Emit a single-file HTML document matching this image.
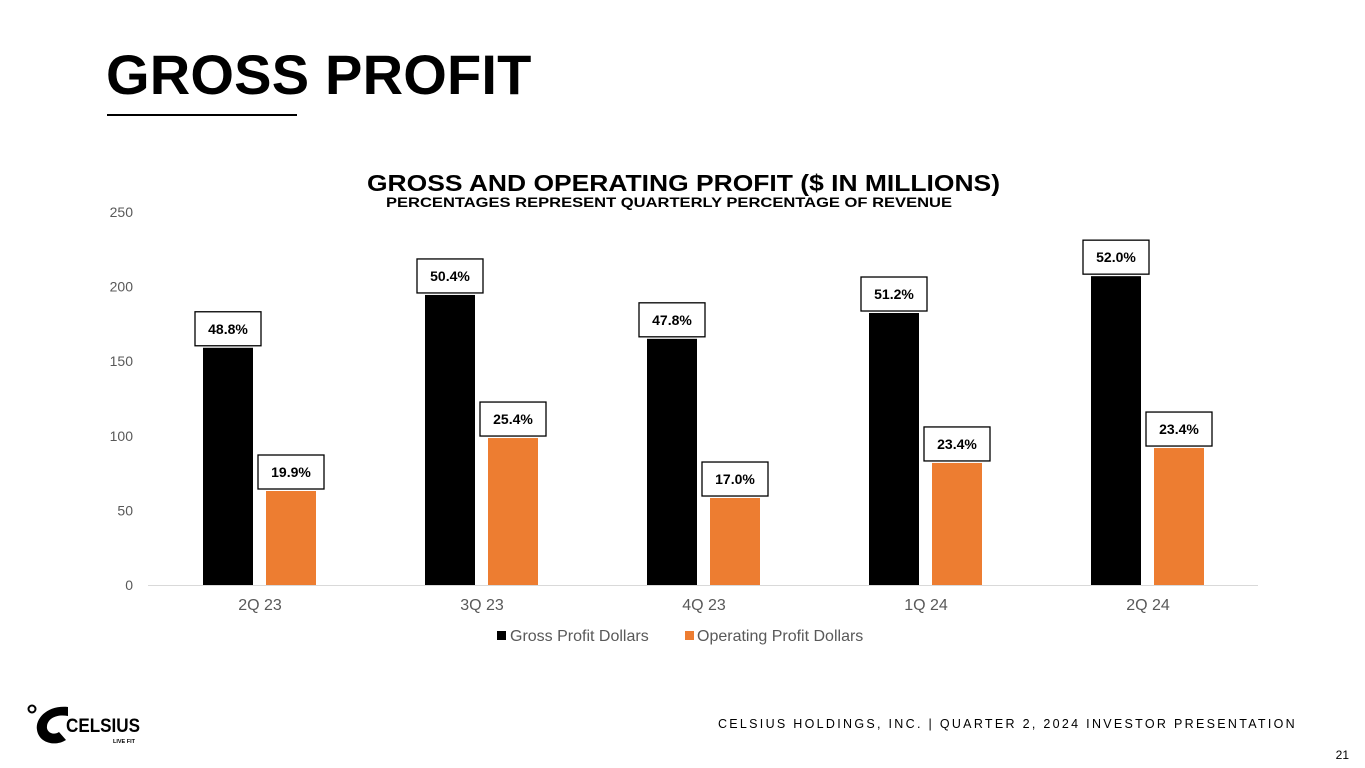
<!DOCTYPE html>
<html><head><meta charset="utf-8">
<style>
body{margin:0;width:1365px;height:768px;background:#fff;font-family:"Liberation Sans",Arial,sans-serif;overflow:hidden;position:relative}
.title{position:absolute;left:106px;top:40px;font-size:56px;font-weight:bold;color:#000;line-height:70px;letter-spacing:0.2px}
.rule{position:absolute;left:107px;top:114px;width:190px;height:2px;background:#000}
.footer{position:absolute;right:68px;top:717px;font-size:12.5px;letter-spacing:2.3px;color:#000}
.pnum{position:absolute;right:16px;top:748px;font-size:12px}
</style></head><body>
<div class="title">GROSS PROFIT</div>
<div class="rule"></div>
<svg id="chart" width="1365" height="768" style="position:absolute;left:0;top:0"></svg>
<div class="footer">CELSIUS HOLDINGS, INC. | QUARTER 2, 2024 INVESTOR PRESENTATION</div>
<div class="pnum">21</div>
<svg width="130" height="50" style="position:absolute;left:26px;top:700px">
<circle cx="6" cy="9" r="3.5" fill="none" stroke="#000" stroke-width="2"/>
<path d="M42 7 C22 5 9 18 11 30 C13 43 29 47 40 40 L33 32 C27 36 20 32 21 26 C22 18 31 14 42 16 Z" fill="#000"/>
<text x="40" y="32" font-size="19" font-weight="bold" textLength="74" lengthAdjust="spacingAndGlyphs" font-family="Liberation Sans, sans-serif">CELSIUS</text>
<text x="87" y="43" font-size="5.5" font-weight="bold" font-family="Liberation Sans, sans-serif">LIVE FIT</text>
</svg>
<script>
const categories=["2Q 23","3Q 23","4Q 23","1Q 24","2Q 24"];
const grossValues=[159,194.4,165,182.3,207];
const opValues=[63,98.5,58.3,81.8,91.8];
const grossPct=["48.8%","50.4%","47.8%","51.2%","52.0%"];
const opPct=["19.9%","25.4%","17.0%","23.4%","23.4%"];
const yTicks=[0,50,100,150,200,250];
const svg=document.getElementById('chart');
const NS="http://www.w3.org/2000/svg";
const x0=148,x1=1258,yBase=585,yTop=212,yMax=250;
const y=v=>yBase-(v/yMax)*(yBase-yTop);
const band=(x1-x0)/categories.length;
const cx=i=>x0+band*(i+0.5);
function el(t,a,txt){const e=document.createElementNS(NS,t);for(const k in a)e.setAttribute(k,a[k]);if(txt!=null)e.textContent=txt;svg.appendChild(e);return e;}
let t=el('text',{x:367,y:191,'font-size':23,'font-weight':'bold',textLength:633,lengthAdjust:'spacingAndGlyphs'},'GROSS AND OPERATING PROFIT ($ IN MILLIONS)');

t=el('text',{x:386,y:207,'font-size':13.5,'font-weight':'bold',textLength:566,lengthAdjust:'spacingAndGlyphs'},'PERCENTAGES REPRESENT QUARTERLY PERCENTAGE OF REVENUE');

yTicks.forEach(v=>{const e=el('text',{x:133,y:y(v)+5,'text-anchor':'end','font-size':14,fill:'#595959'},v);
});
const ax=el('line',{x1:x0,x2:x1,y1:yBase+0.5,y2:yBase+0.5,stroke:'#d9d9d9','stroke-width':1});

function label(xc,top,txt){const w=66,h=34;
const r=el('rect',{x:xc-w/2,y:top-2-h,width:w,height:h,fill:'#fff',stroke:'#000','stroke-width':1.3});

const tt=el('text',{x:xc,y:top-2-h/2+5,'text-anchor':'middle','font-size':14,'font-weight':'bold'},txt);
}
categories.forEach((c,i)=>{
const gx=cx(i)-56,ox=cx(i)+7;
const g=el('rect',{x:gx,y:y(grossValues[i]),width:50,height:yBase-y(grossValues[i]),fill:'#000'});

const o=el('rect',{x:ox,y:y(opValues[i]),width:50,height:yBase-y(opValues[i]),fill:'#ed7d31'});

label(gx+25,y(grossValues[i]),grossPct[i]);
label(ox+25,y(opValues[i]),opPct[i]);
const xl=el('text',{x:cx(i)+1,y:610,'text-anchor':'middle','font-size':16,fill:'#595959'},c);

});
let r=el('rect',{x:497,y:631,width:9,height:9,fill:'#000'});
t=el('text',{x:510,y:641,'font-size':16,fill:'#595959'},'Gross Profit Dollars');
r=el('rect',{x:685,y:631,width:9,height:9,fill:'#ed7d31'});
t=el('text',{x:697,y:641,'font-size':16,fill:'#595959'},'Operating Profit Dollars');
</script>
</body></html>
